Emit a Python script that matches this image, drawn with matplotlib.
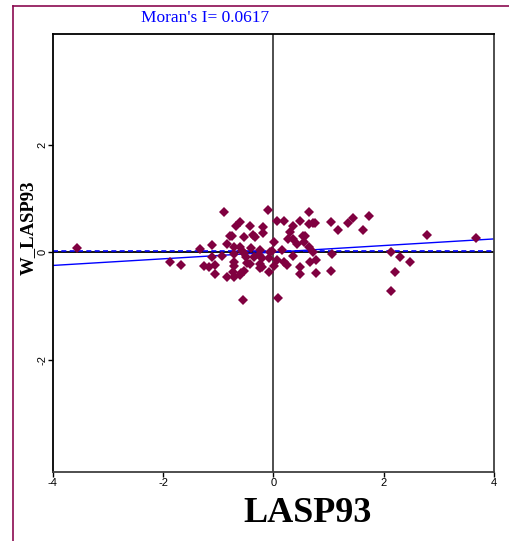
import numpy as np
import matplotlib as mpl
mpl.use("Agg")
import matplotlib.pyplot as plt
from matplotlib.lines import Line2D

# LASP93 standardized values and their spatial lag
lasp = [-0.888, -0.096, 0.067, 0.187, 0.477, -0.598, -0.671, -0.430, -0.194, -0.194,
        -0.792, -0.752, -0.538, -0.375, -0.332, 0.018, -1.118, -0.839, -0.720, -0.598,
        -0.404, -1.336, -0.248, -0.067, -0.720, -0.567, -0.538, -0.489, -1.106, -0.930,
        -0.357, -0.266, -0.205, -0.078, 0.067, -0.720, -0.477, -0.236, -0.205, -0.236,
        -1.251, -1.165, -1.057, -0.720, -0.417, -0.538, -0.585, -0.730, -0.078, -1.051,
        -0.839, -0.720, -0.611, -0.556, 0.078, 0.640, 0.357, 0.653, 0.720, 0.756,
        1.046, 1.354, 1.445, 1.727, 1.626, 1.166, 0.308, 0.538, 0.580, 0.259,
        0.357, 0.430, 0.549, 0.640, -0.024, 0.158, 0.720, 1.064, 0.357, 0.187,
        0.248, 0.658, 0.779, 0.489, 0.018, 0.489, 0.779, 1.046, 2.786, 3.680,
        2.139, 2.302, 2.471, 2.211, 2.139, -3.558, -1.867, -1.673]
w_lasp = [0.755, 0.787, 0.588, 0.588, 0.588, 0.564, 0.489, 0.495, 0.465, 0.365,
          0.303, 0.303, 0.290, 0.316, 0.279, 0.192, 0.130, 0.149, 0.104, 0.104,
          0.074, 0.067, 0.043, 0.011, -0.032, 0.030, -0.019, -0.093, -0.093, -0.069,
          -0.082, -0.050, -0.112, -0.112, -0.143, -0.175, -0.193, -0.218, -0.268, -0.298,
          -0.255, -0.273, -0.242, -0.255, -0.218, -0.348, -0.391, -0.361, -0.372, -0.404,
          -0.465, -0.465, -0.422, -0.887, -0.845, 0.755, 0.495, 0.521, 0.540, 0.540,
          0.558, 0.540, 0.633, 0.670, 0.415, 0.415, 0.383, 0.303, 0.303, 0.242,
          0.242, 0.149, 0.197, 0.104, 0.030, 0.043, 0.000, -0.037, -0.069, -0.186,
          -0.236, -0.186, -0.143, -0.268, -0.255, -0.404, -0.380, -0.342, 0.322, 0.272,
          0.000, -0.093, -0.186, -0.361, -0.720, 0.074, -0.175, -0.236]

morans_i = 0.0617
lag_mean = 0.025
x_ticks = [-4, -2, 0, 2, 4]
y_ticks = [-2, 0, 2]

serif = ['Liberation Serif', 'DejaVu Serif']
sans = ['Liberation Sans', 'DejaVu Sans']

fig = plt.figure(figsize=(5.10, 5.41), dpi=100)
ax = fig.add_axes([0.1033, 0.1275, 0.8653, 0.8097])

ax.set_xlim(-4, 4)
ax.set_ylim(-4.09, 4.06)

# quadrant lines
ax.axvline(0, color='#404040', lw=1.3, zorder=1)
ax.axhline(0, color='black', lw=1.3, zorder=1)
ax.axhline(lag_mean, color='blue', lw=1.2, ls=(0, (3, 2)), zorder=2)

# regression line, slope = Moran's I
xx = np.array([-4, 4])
ax.plot(xx, morans_i * xx, color='blue', lw=1.0, zorder=2)

ax.plot(lasp, w_lasp, ls='none', marker='D', markersize=4.8,
        color='#800040', markeredgewidth=0, zorder=3)

ax.set_xticks(x_ticks)
ax.set_yticks(y_ticks)
ax.set_xticklabels([str(t) for t in x_ticks], family=sans, fontsize=8)
ax.set_yticklabels([str(t) for t in y_ticks], family=sans, fontsize=8,
                   rotation=90, va='center')
ax.tick_params(axis='both', direction='out', length=3.5, width=1, pad=0.5)

for s in ['left', 'top']:
    ax.spines[s].set_color('black')
    ax.spines[s].set_linewidth(1.3)
for s in ['right', 'bottom']:
    ax.spines[s].set_color('#404040')
    ax.spines[s].set_linewidth(1.3)

fig.text(205 / 510, 1 - 18 / 541, "Moran's I= %.4f" % morans_i, color='blue',
         family=serif, fontsize=12.5, ha='center', va='center')
fig.text(308 / 510, 1 - 513 / 541, 'LASP93', family=serif, fontsize=26,
         fontweight='bold', ha='center', va='center')
fig.text(28 / 510, 1 - 228 / 541, 'W_LASP93', family=serif, fontsize=13.5,
         fontweight='bold', ha='center', va='center', rotation=90)

# window frame
border = '#8B0A50'
fig.add_artist(Line2D([13 / 510, 13 / 510], [0, 1 - 6 / 541], color=border,
                      lw=1.2, transform=fig.transFigure))
fig.add_artist(Line2D([13 / 510, 1], [1 - 6 / 541, 1 - 6 / 541], color=border,
                      lw=1.2, transform=fig.transFigure))

fig.savefig('out.png', dpi=100)
plt.close(fig)
